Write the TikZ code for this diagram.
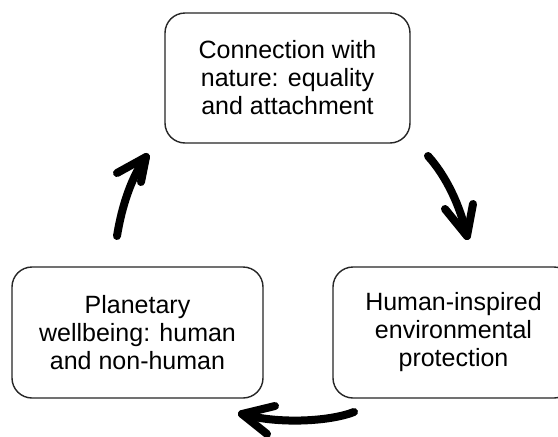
\documentclass[tikz,border=0pt]{standalone}
\usepackage{fontspec}
\setmainfont{Liberation Sans}
\begin{document}
\begin{tikzpicture}[x=1pt,y=-1pt,
  box/.style={draw=black!85, line width=1.4pt, rounded corners=20pt, align=center,
    font=\fontsize{25}{28}\selectfont, inner sep=0pt},
  cyclearrow/.style={line width=8pt, line cap=round, line join=round, black}]
\useasboundingbox[fill=white] (0,0) rectangle (558,437);
\node[box, minimum width=245, minimum height=130] (top) at (287.5,78)
  {Connection with\\nature: equality\\and attachment};
\node[box, minimum width=251, minimum height=131] (left) at (137.5,332.5)
  {Planetary\\wellbeing: human\\and non-human};
\node[box, minimum width=241, minimum height=131] (right) at (453.5,332.5)
  {Human-inspired\\environmental\\protection};
% arrow top -> right
\coordinate (a1s) at (428,156);
\coordinate (a1t) at (467,236);
\draw[cyclearrow] (a1s) .. controls (446,176) and (460,205) .. (a1t);
\draw[cyclearrow] (445,209) -- (a1t) -- (473,204);
% arrow right -> left
\coordinate (a2s) at (354,412);
\coordinate (a2t) at (242,414);
\draw[cyclearrow] (a2s) .. controls (328,422) and (276,424) .. (a2t);
\draw[cyclearrow] (275,406) -- (a2t) -- (267,434);
% arrow left -> top
\coordinate (a3s) at (117,236);
\coordinate (a3t) at (146,157);
\draw[cyclearrow] (a3s) .. controls (122,205) and (132,176) .. (a3t);
\draw[cyclearrow] (117,173) -- (a3t) -- (141,182);
\end{tikzpicture}
\end{document}
